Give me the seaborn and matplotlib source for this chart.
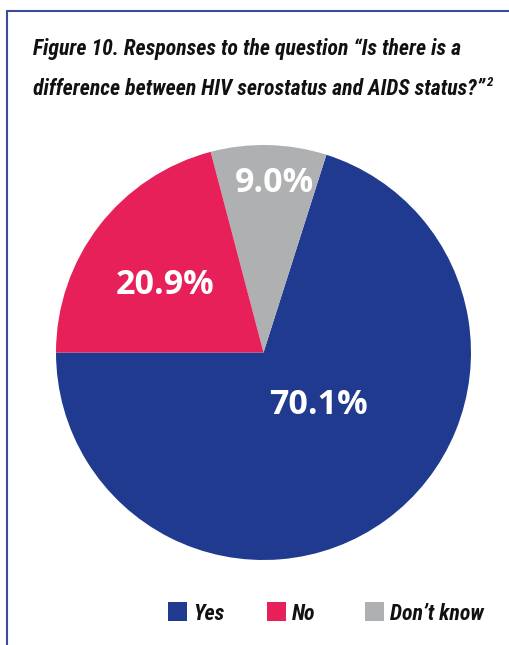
import os
import matplotlib
matplotlib.use("Agg")
import matplotlib.pyplot as plt
from matplotlib import font_manager as fm
from matplotlib.lines import Line2D
from matplotlib.patches import Rectangle
import seaborn as sns

# Survey responses (percent)
categories = ["Yes", "Don\u2019t know", "No"]
values = [70.1, 9.0, 20.9]
legend_order = ["Yes", "No", "Don\u2019t know"]
colors = {"Yes": "#1F3A8F", "No": "#E8205A", "Don\u2019t know": "#AFB0B2"}

title_lines = [
    "Figure 10. Responses to the question \u201cIs there is a",
    "difference between HIV serostatus and AIDS status?\u201d",
]
footnote = "2"

sns.set_theme(style="white")
plt.rcParams["font.family"] = ["Open Sans", "DejaVu Sans"]

# narrow bold italic faces for the heading and legend, most condensed first
NARROW_FACES = [
    "notosans-extracondensedbolditalic",
    "notosans-extracondensedsemibolditalic",
    "notosans-condensedbolditalic",
    "liberationsansnarrow-bolditalic",
    "opensans_condensed-bolditalic",
    "opensans-condensedbolditalic",
    "robotocondensed-bolditalic",
    "dejavusanscondensed-boldoblique",
]


def narrow_bold_font():
    files = {}
    for f in fm.fontManager.ttflist:
        key = os.path.splitext(os.path.basename(f.fname))[0].lower()
        files.setdefault(key, f.fname)
    for face in NARROW_FACES:
        if face in files:
            return fm.FontProperties(fname=files[face])
    return fm.FontProperties(family=["DejaVu Sans"], style="italic", weight="bold")


title_fp = narrow_bold_font()

fig = plt.figure(figsize=(5.09, 6.45), dpi=100)
fig.patch.set_facecolor("white")
renderer = fig.canvas.get_renderer()

# frame lines along the top and left edge
frame_col = "#3C4A9E"
fig.add_artist(Line2D([7 / 509, 1.0], [1 - 11 / 645, 1 - 11 / 645],
                      transform=fig.transFigure, color=frame_col, lw=1.5))
fig.add_artist(Line2D([7 / 509, 7 / 509], [0.0, 1 - 11 / 645],
                      transform=fig.transFigure, color=frame_col, lw=1.5))


def heading(x_px, y_px, s, size):
    return fig.text(x_px / 509, 1 - y_px / 645, s, fontproperties=title_fp,
                    fontsize=size, color="#111111", va="baseline")


def fit_size(t, width_px, max_size):
    w = t.get_window_extent(renderer).width
    size = max_size if w <= width_px else max_size * width_px / w
    t.set_fontsize(size)
    return size


# title, kept within the box width
t1 = heading(33, 55, title_lines[0], 18.5)
size = fit_size(t1, 428, 18.5)
t2 = heading(33, 95, title_lines[1], size)
end_x = t2.get_window_extent(renderer).x1
heading(end_x + 1, 86, footnote, size * 0.6)

# pie
ax = fig.add_axes([56 / 509, 1 - 560 / 645, 415 / 509, 415 / 645])
pal = sns.color_palette([colors[c] for c in categories])
wedges, texts, autotexts = ax.pie(
    values, colors=pal, startangle=180, counterclock=True,
    autopct=lambda p: f"{p:.1f}%", pctdistance=0.6,
    wedgeprops=dict(linewidth=0),
    textprops=dict(color="white", fontsize=24.5, fontweight="bold"),
)
label_pos = [(0.265, -0.255), (0.055, 0.815), (-0.475, 0.323)]
for t, (x, y), v in zip(autotexts, label_pos, values):
    t.set_position((x, y))
    t.set_text(f"{v:.1f}%")
    t.set_ha("center")
    t.set_va("center")
ax.set_xlim(-1, 1)
ax.set_ylim(-1, 1)
ax.set_aspect("equal")
ax.axis("off")

# legend: swatch + label, label size set by the longest entry
leg_x = {"Yes": 168, "No": 267, "Don\u2019t know": 365}
probe = heading(0, -50, legend_order[-1], 18)
leg_size = fit_size(probe, 94, 18)
probe.remove()
for name in legend_order:
    x0 = leg_x[name]
    fig.add_artist(Rectangle((x0 / 509, 1 - 621 / 645), 19 / 509, 19 / 645,
                             transform=fig.transFigure, color=colors[name], lw=0))
    heading(x0 + 25, 620, name, leg_size)

fig.savefig("out.png", dpi=100)
